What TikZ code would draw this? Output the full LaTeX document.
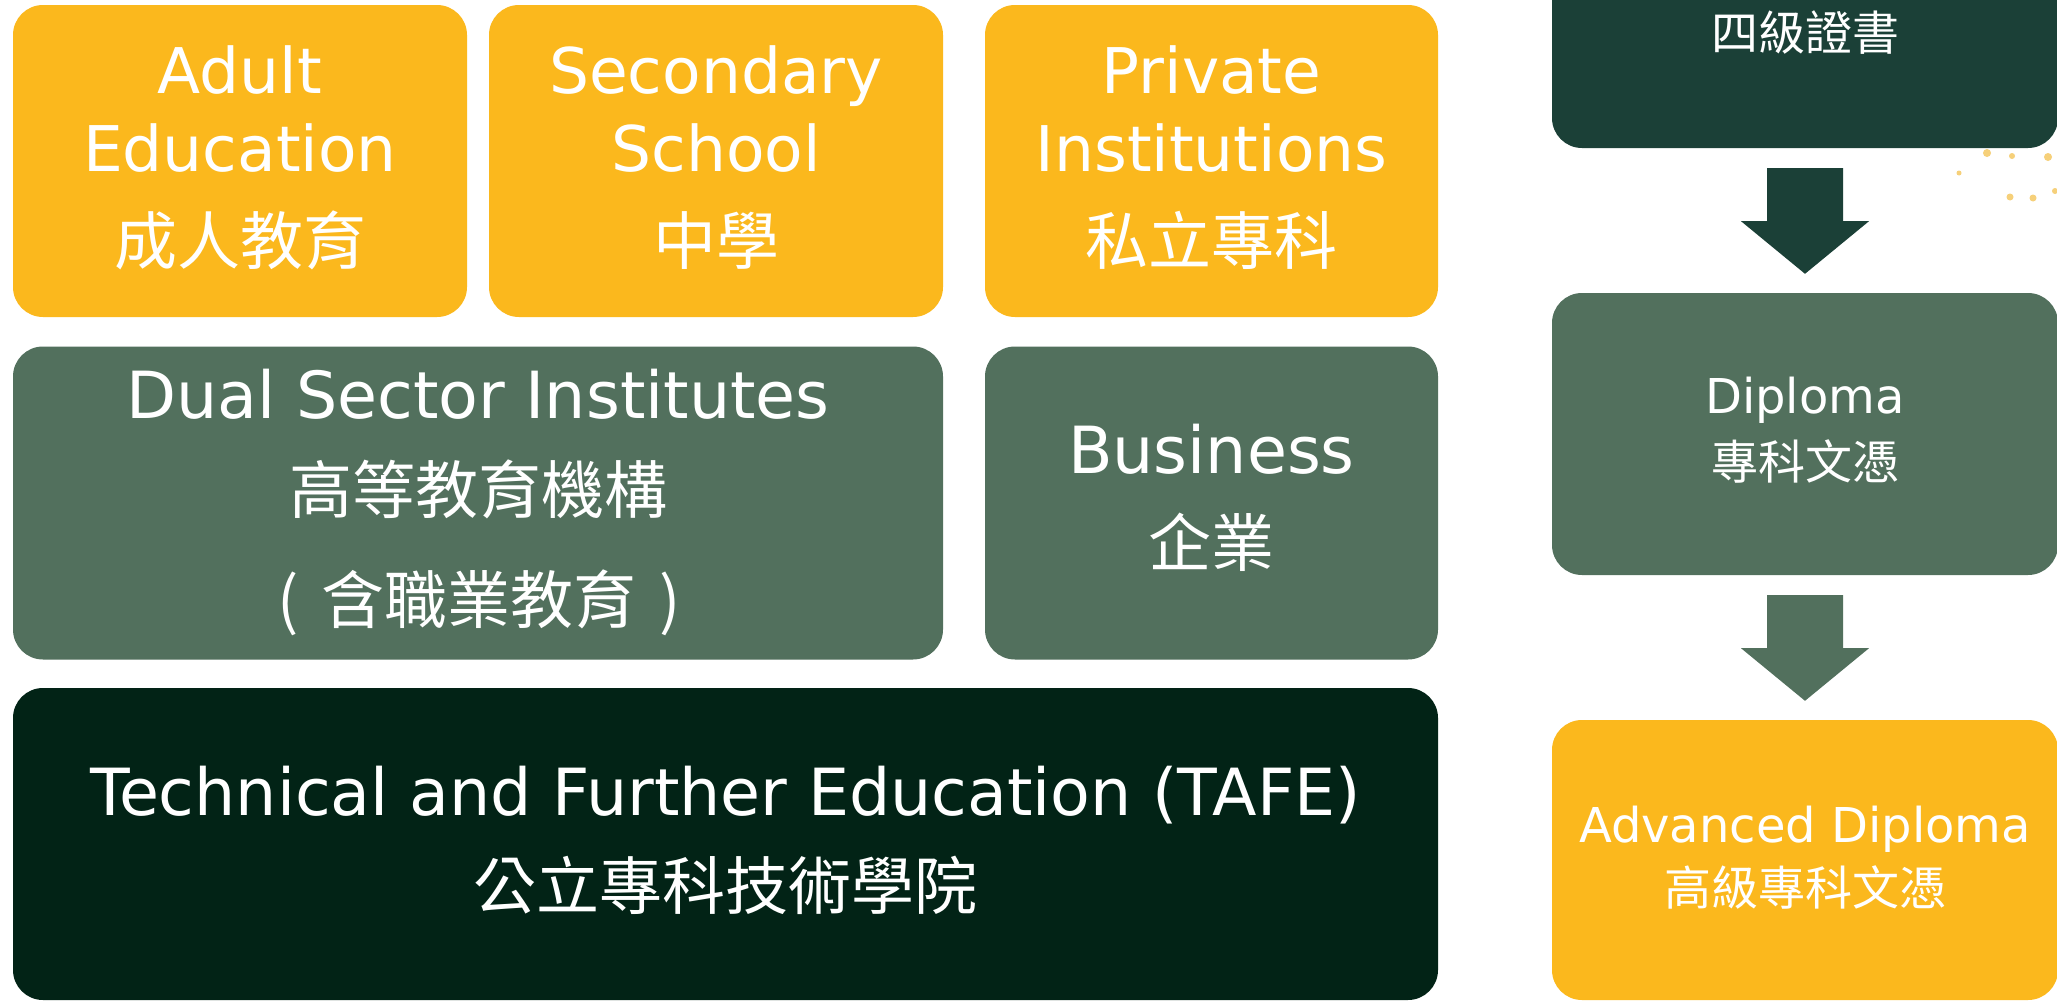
\documentclass[tikz,border=0pt]{standalone}
\usepackage{fontspec}
\setmainfont{DejaVu Sans}
\newfontfamily\cjk{Noto Sans CJK TC}
\usetikzlibrary{calc}
\definecolor{ylw}{HTML}{FBB81D}
\definecolor{midgreen}{HTML}{52705D}
\definecolor{deepgreen}{HTML}{1B4037}
\definecolor{tafegreen}{HTML}{022316}
\definecolor{dotylw}{HTML}{F6D07A}
\begin{document}
\begin{tikzpicture}[x=1pt,y=-1pt,
  box/.style={rectangle, rounded corners=30pt, inner sep=0pt, draw=none},
  en/.style={text=white, anchor=base, inner sep=0pt, font=\fontsize{63}{63}\selectfont},
  enb/.style={text=white, anchor=base, inner sep=0pt, font=\fontsize{65}{65}\selectfont},
  zh/.style={text=white, anchor=base, inner sep=0pt, font=\cjk\fontsize{63}{63}\selectfont},
  ens/.style={text=white, anchor=base, inner sep=0pt, font=\fontsize{48}{48}\selectfont},
  zhs/.style={text=white, anchor=base, inner sep=0pt, font=\cjk\fontsize{47}{47}\selectfont},
  dot/.style={fill=dotylw, draw=none}]
\fill[white] (0,0) rectangle (2057,1001);
\useasboundingbox (0,0) rectangle (2057,1001);

% decorative dots
\fill[dot] (1987,153) circle[radius=4pt];
\fill[dot] (2012,156) circle[radius=3pt];
\fill[dot] (2048,157) circle[radius=4pt];
\fill[dot] (1959,173) circle[radius=2.5pt];
\fill[dot] (2010,197) circle[radius=3.5pt];
\fill[dot] (2033,198) circle[radius=3.5pt];
\fill[dot] (2055,191) circle[radius=3pt];

% top row
\node[box, fill=ylw, minimum width=454pt, minimum height=312pt] (adult) at (240,161) {};
\node[en] (adult1) at (240,93) {Adult};
\node[en] (adult2) at (240,171) {Education};
\node[zh] (adult3) at (240,264) {成人教育};

\node[box, fill=ylw, minimum width=454pt, minimum height=312pt] (second) at (716,161) {};
\node[en] (second1) at (716,93) {Secondary};
\node[en] (second2) at (716,171) {School};
\node[zh] (second3) at (716,264) {中學};

\node[box, fill=ylw, minimum width=453pt, minimum height=312pt] (private) at (1211.5,161) {};
\node[en] (private1) at (1211.5,93) {Private};
\node[en] (private2) at (1211.5,171) {Institutions};
\node[zh] (private3) at (1211.5,264) {私立專科};

% middle row
\node[box, fill=midgreen, minimum width=930pt, minimum height=313pt] (dual) at (478,503) {};
\node[enb] (dual1) at (478,418) {Dual Sector Institutes};
\node[zh] (dual2) at (478,513) {高等教育機構};
\node[zh] (dual3) at (479,623) {(\hspace{9pt} 含職業教育 \hspace{9pt})};

\node[box, fill=midgreen, minimum width=453pt, minimum height=313pt] (business) at (1211.5,503) {};
\node[enb] (business1) at (1211.5,473) {Business};
\node[zh] (business2) at (1211.5,566) {企業};

% bottom row
\node[box, fill=tafegreen, minimum width=1425pt, minimum height=312pt] (tafe) at (725.5,844) {};
\node[enb] (tafe1) at (725.5,815) {Technical and Further Education (TAFE)};
\node[zh] (tafe2) at (725.5,909) {公立專科技術學院};

% right column
\node[box, fill=deepgreen, minimum width=506pt, minimum height=288pt] (cert) at (1805,4) {};
\node[zhs] (cert1) at (1805,50) {四級證書};

\node[box, fill=midgreen, minimum width=506pt, minimum height=282pt] (dipl) at (1805,434) {};
\node[ens] (dipl1) at (1805,413) {Diploma};
\node[zhs] (dipl2) at (1805,479) {專科文憑};

\node[box, fill=ylw, minimum width=506pt, minimum height=280pt] (adv) at (1805,860) {};
\node[ens] (adv1) at (1805,842) {Advanced Diploma};
\node[zhs] (adv2) at (1805,905) {高級專科文憑};

% block arrows
\fill[deepgreen] ($(cert.south)+(-38,20)$) -- ($(cert.south)+(38,20)$) -- ($(cert.south)+(38,73)$)
  -- ($(cert.south)+(64,73)$) -- ($(dipl.north)+(0,-19)$) -- ($(cert.south)+(-64,73)$)
  -- ($(cert.south)+(-38,73)$) -- cycle;
\fill[midgreen] ($(dipl.south)+(-38,20)$) -- ($(dipl.south)+(38,20)$) -- ($(dipl.south)+(38,73)$)
  -- ($(dipl.south)+(64,73)$) -- ($(adv.north)+(0,-19)$) -- ($(dipl.south)+(-64,73)$)
  -- ($(dipl.south)+(-38,73)$) -- cycle;
\end{tikzpicture}
\end{document}
